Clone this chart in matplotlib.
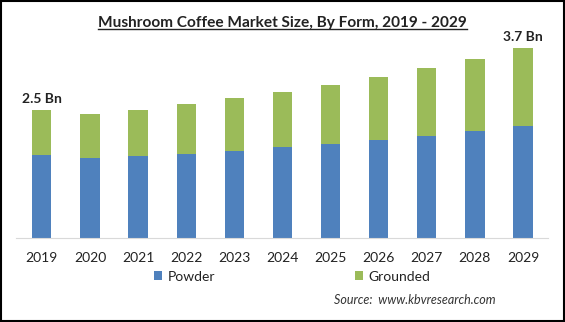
import matplotlib.pyplot as plt
from matplotlib.lines import Line2D
from matplotlib.patches import Rectangle
import numpy as np

years = ['2019', '2020', '2021', '2022', '2023', '2024', '2025', '2026', '2027', '2028', '2029']
powder = [1.62, 1.56, 1.60, 1.64, 1.70, 1.78, 1.84, 1.92, 1.99, 2.09, 2.19]
grounded = [0.88, 0.86, 0.90, 0.98, 1.03, 1.07, 1.15, 1.22, 1.33, 1.41, 1.52]
end_labels = {0: '2.5 Bn', 10: '3.7 Bn'}

plt.rcParams['font.family'] = ['Lato', 'DejaVu Sans']

fig = plt.figure(figsize=(5.65, 3.22), dpi=100)
ax = fig.add_axes([0.028, 0.261, 0.942, 0.636])

x = np.arange(len(years))
ax.bar(x, powder, 0.4, color='#4F81BD', label='Powder')
ax.bar(x, grounded, 0.4, bottom=powder, color='#9BBB59', label='Grounded')

for i, txt in end_labels.items():
    ax.text(x[i], powder[i] + grounded[i] + 0.1, txt, ha='center', va='bottom',
            fontsize=10, fontweight='bold', color='#222222')

ax.set_xlim(-0.54, 10.52)
ax.set_ylim(0, 4.0)
ax.set_xticks(x)
ax.set_xticklabels(years, fontsize=10, color='#222222')
ax.tick_params(axis='x', length=0, pad=10)
ax.set_yticks([])
for s in ['top', 'right', 'left']:
    ax.spines[s].set_visible(False)
ax.spines['bottom'].set_color('#D9D9D9')

ax.legend(loc='center', bbox_to_anchor=(0.519, -0.189), ncol=2, frameon=False,
          fontsize=10, handlelength=0.6, handleheight=0.6, handletextpad=0.4,
          columnspacing=10.05, labelcolor='#222222')

title = fig.text(0.5, 0.929, 'Mushroom Coffee Market Size, By Form, 2019 - 2029',
                 ha='center', va='center', fontsize=11.1, fontweight='bold', color='#222222')
fig.canvas.draw()
bb = title.get_window_extent().transformed(fig.transFigure.inverted())
fig.add_artist(Line2D([bb.x0, bb.x1], [bb.y0 + 0.002, bb.y0 + 0.002],
                      transform=fig.transFigure, color='#222222', linewidth=1))

fig.text(0.878, 0.068, 'Source:  www.kbvresearch.com', ha='right', va='center',
         fontsize=9, style='italic', color='#333333')

fig.add_artist(Rectangle((0.002, 0.003), 0.996, 0.994, transform=fig.transFigure,
                         fill=False, edgecolor='black', linewidth=1.5))

fig.savefig('out.png', dpi=100)
